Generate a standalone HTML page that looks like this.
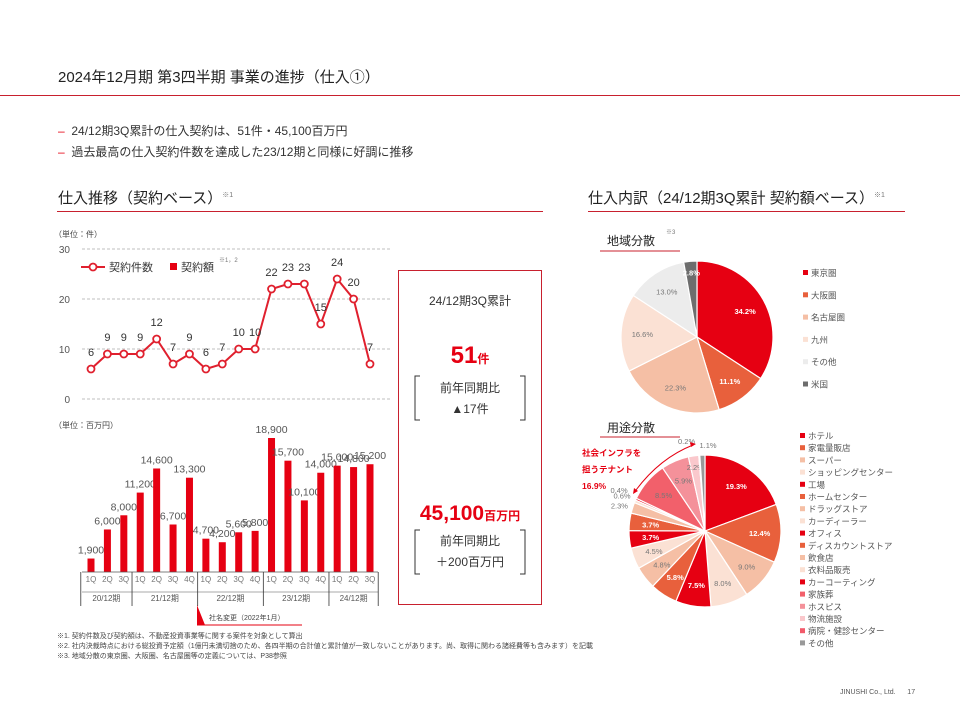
<!DOCTYPE html>
<html><head><meta charset="utf-8"><style>
body{margin:0;width:960px;height:720px;background:#fff;overflow:hidden;font-family:"Liberation Sans","Noto Sans CJK JP",sans-serif;color:#333;position:relative}
.a{position:absolute;white-space:nowrap}
</style></head><body>
<div class="a" style="left:58px;top:66px;font-size:15px;color:#222">2024年12月期 第3四半期 事業の進捗（仕入①）</div>
<div class="a" style="left:0;top:95px;width:960px;height:1px;background:#c8202e"></div>
<div class="a" style="left:58px;top:122px;font-size:12px"><span style="color:#e60012">–</span>&nbsp; 24/12期3Q累計の仕入契約は、51件・45,100百万円</div>
<div class="a" style="left:58px;top:143px;font-size:12px"><span style="color:#e60012">–</span>&nbsp; 過去最高の仕入契約件数を達成した23/12期と同様に好調に推移</div>
<div class="a" style="left:58px;top:187px;font-size:15px;color:#222">仕入推移（契約ベース）<sup style="font-size:7px;color:#777">※1</sup></div>
<div class="a" style="left:57px;top:211px;width:486px;height:1px;background:#c8202e"></div>
<div class="a" style="left:588px;top:187px;font-size:15px;color:#222">仕入内訳（24/12期3Q累計 契約額ベース）<sup style="font-size:7px;color:#777">※1</sup></div>
<div class="a" style="left:588px;top:211px;width:317px;height:1px;background:#c8202e"></div>

<div class="a" style="left:398px;top:270px;width:142px;height:333px;border:1px solid #c8202e"></div>
<div class="a" style="left:398px;top:292px;width:144px;text-align:center;font-size:12px">24/12期3Q累計</div>
<div class="a" style="left:398px;top:342px;width:144px;text-align:center;color:#e60012;font-weight:bold;font-size:24px">51<span style="font-size:12px">件</span></div>
<div class="a" style="left:398px;top:378px;width:144px;text-align:center;font-size:12px;line-height:21px">前年同期比<br>▲17件</div>
<div class="a" style="left:398px;top:502px;width:144px;text-align:center;color:#e60012;font-weight:bold;font-size:21px">45,100<span style="font-size:12px">百万円</span></div>
<div class="a" style="left:398px;top:531px;width:144px;text-align:center;font-size:12px;line-height:21px">前年同期比<br>＋200百万円</div>
<svg class="a" style="left:0;top:0" width="960" height="720">
<path d="M420 376 h-5 v44 h5 M520 376 h5 v44 h-5 M420 530 h-5 v44 h5 M520 530 h5 v44 h-5" fill="none" stroke="#333" stroke-width="1"/>
</svg>

<svg id="charts" class="a" style="left:0;top:0" width="960" height="720"></svg>

<div class="a" style="left:57px;top:632px;font-size:7px;line-height:10px;color:#444">※1. 契約件数及び契約額は、不動産投資事業等に関する案件を対象として算出<br>※2. 社内決裁時点における総投資予定額（1億円未満切捨のため、各四半期の合計値と累計値が一致しないことがあります。尚、取得に関わる諸経費等も含みます）を記載<br>※3. 地域分散の東京圏、大阪圏、名古屋圏等の定義については、P38参照</div>
<div class="a" style="left:840px;top:689px;font-size:7px;color:#555">JINUSHI Co., Ltd.&nbsp;&nbsp;&nbsp;&nbsp;&nbsp;&nbsp;17</div>

<script>
const quarters=["1Q","2Q","3Q","1Q","2Q","3Q","4Q","1Q","2Q","3Q","4Q","1Q","2Q","3Q","4Q","1Q","2Q","3Q"];
const counts=[6,9,9,9,12,7,9,6,7,10,10,22,23,23,15,24,20,7];
const amounts=[1900,6000,8000,11200,14600,6700,13300,4700,4200,5600,5800,18900,15700,10100,14000,15000,14800,15200];
const countTicks=[0,10,20,30];
const periods=["20/12期","21/12期","22/12期","23/12期","24/12期"];
const periodSizes=[3,4,4,4,3];
const regionLabels=["東京圏","大阪圏","名古屋圏","九州","その他","米国"];
const regionValues=[34.2,11.1,22.3,16.6,13.0,2.8];
const useLabels=["ホテル","家電量販店","スーパー","ショッピングセンター","工場","ホームセンター","ドラッグストア","カーディーラー","オフィス","ディスカウントストア","飲食店","衣料品販売","カーコーティング","家族葬","ホスピス","物流施設","病院・健診センター","その他"];
const useValues=[19.3,12.4,9.0,8.0,7.5,5.8,4.8,4.5,3.7,3.7,2.3,0.6,0.4,8.5,5.9,2.2,0.2,1.1];

const svg=document.getElementById('charts');const NS='http://www.w3.org/2000/svg';
function mk(t,a,p){const e=document.createElementNS(NS,t);for(const k in a)e.setAttribute(k,a[k]);(p||svg).appendChild(e);return e;}
function tx(x,y,s,a){const e=mk('text',Object.assign({x:x,y:y},a));e.textContent=s;return e;}
const n=counts.length;
const xs=i=>91+i*(370-91)/(n-1);
const yc=v=>399-v*5;
const yb=v=>572-v*134/18900;
tx(54,237,"（単位：件）",{'font-size':8,fill:'#444'});
countTicks.forEach(t=>{const g=mk('line',{x1:82,x2:390,y1:yc(t),y2:yc(t),stroke:'#aaa','stroke-dasharray':'3,2','stroke-width':0.7});
const l=tx(70,yc(t)+4,String(t),{'font-size':10,fill:'#555','text-anchor':'end'});});
const pl=mk('polyline',{points:counts.map((v,i)=>xs(i)+','+yc(v)).join(' '),fill:'none',stroke:'#e0202e','stroke-width':2});

counts.forEach((v,i)=>{const c=mk('circle',{cx:xs(i),cy:yc(v),r:3.5,fill:'#fff',stroke:'#e0202e','stroke-width':1.8});
const l=tx(xs(i),yc(v)-13,String(v),{'font-size':11,fill:'#333','text-anchor':'middle'});});
mk('line',{x1:81,x2:105,y1:267,y2:267,stroke:'#e0202e','stroke-width':2});
mk('circle',{cx:93,cy:267,r:3.5,fill:'#fff',stroke:'#e0202e','stroke-width':1.8});
tx(109,271,"契約件数",{'font-size':11,fill:'#333'});
mk('rect',{x:170,y:263,width:7,height:7,fill:'#e60012'});
tx(181,271,"契約額",{'font-size':11,fill:'#333'});
tx(219,262,"※1，2",{'font-size':6,fill:'#777'});
tx(54,428,"（単位：百万円）",{'font-size':8,fill:'#444'});
amounts.forEach((v,i)=>{const r=mk('rect',{x:xs(i)-3.5,y:yb(v),width:7,height:572-yb(v),fill:'#e60012'});
const l=tx(xs(i),yb(v)-5,v.toLocaleString('en-US'),{'font-size':10.5,fill:'#555','text-anchor':'middle'});
const q=tx(xs(i),582,quarters[i],{'font-size':8,fill:'#777','text-anchor':'middle'});});
mk('line',{x1:82,x2:378,y1:572,y2:572,stroke:'#555','stroke-width':0.8});
mk('line',{x1:82,x2:378,y1:592,y2:592,stroke:'#555','stroke-width':0.5});
let idx=0;const step=(370-91)/(n-1);
const seps=[];periodSizes.forEach((s,k)=>{const x0=xs(idx)-step/2-(k==0?2:0);const x1=xs(idx+s-1)+step/2;seps.push(x0);
const l=tx((x0+x1)/2,601,periods[k],{'font-size':8,fill:'#555','text-anchor':'middle'});idx+=s;});
seps.push(xs(n-1)+step/2);
seps.forEach(x=>mk('line',{x1:x,x2:x,y1:572,y2:606,stroke:'#333','stroke-width':0.8}));
mk('path',{d:'M197 605 L197 625 L205 625 Z',fill:'#e60012'});
mk('line',{x1:197,x2:302,y1:625,y2:625,stroke:'#e60012','stroke-width':1});
tx(209,620,"社名変更（2022年1月）",{'font-size':7,fill:'#444'});
// label placement style: {radius factor, dx, dy, outside}
const useLabelStyle={15:[0.85,0,0],16:[1.12,-12,-5],17:[1.12,6,-1],12:[1.1,-10,-6],11:[1.1,-6,-3],10:[1.1,-6,0]};
const regionLabelStyle={5:[0.85,0,0]};
function pie(cx,cy,r,vals,cols,labs,nm,sty){let a=-Math.PI/2;const tot=vals.reduce((s,v)=>s+v,0);
vals.forEach((v,i)=>{const da=v/tot*2*Math.PI;const a2=a+da;
const p=mk('path',{d:`M${cx} ${cy} L${cx+r*Math.cos(a)} ${cy+r*Math.sin(a)} A${r} ${r} 0 ${da>Math.PI?1:0} 1 ${cx+r*Math.cos(a2)} ${cy+r*Math.sin(a2)} Z`,fill:cols[i],stroke:'#fff','stroke-width':1.2});

const m=(a+a2)/2;const st=sty[i]||[0.72,0,0];const rr=r*st[0];const dark=labs[i];const outside=st[0]>1;
const l=tx(cx+rr*Math.cos(m)+st[1],cy+rr*Math.sin(m)+3+st[2],v.toFixed(1)+'%',{'font-size':7.5,fill:outside?'#777':(dark?'#fff':'#777'),'text-anchor':'middle','font-weight':dark&&!outside?'bold':'normal'});
a=a2;});}
const rc=['#e60012','#e8603c','#f5bfa5','#fbe1d4','#ececec','#6d6d6d'];
pie(697,337,76,regionValues,rc,[1,1,0,0,0,1],'region',regionLabelStyle);
const uc=['#e60012','#e8603c','#f5bfa5','#fbe1d4','#e60012','#e8603c','#f5bfa5','#fbe1d4','#e60012','#e8603c','#f5bfa5','#fbe1d4','#e60012','#f2606b','#f4919a','#fac8cc','#f25a6a','#999'];
pie(705,531,76,useValues,uc,[1,1,0,0,1,1,0,0,1,1,0,0,1,0,0,0,0,0],'use',useLabelStyle);
tx(607,245,"地域分散",{'font-size':12,fill:'#222'});tx(666,234,"※3",{'font-size':6,fill:'#777'});
mk('line',{x1:600,x2:680,y1:251,y2:251,stroke:'#c8202e','stroke-width':1});
tx(607,432,"用途分散",{'font-size':12,fill:'#222'});
mk('line',{x1:600,x2:680,y1:437,y2:437,stroke:'#c8202e','stroke-width':1});
regionLabels.forEach((s,i)=>{const y=275+i*22.3;const r=mk('rect',{x:803,y:y-5,width:5,height:5,fill:rc[i]});
const l=tx(811,y+1,s,{'font-size':8.5,fill:'#555'});});
useLabels.forEach((s,i)=>{const y=438+i*12.2;const r=mk('rect',{x:800,y:y-5,width:5,height:5,fill:uc[i]});
const l=tx(808,y+1,s,{'font-size':8.5,fill:'#555'});});
['社会インフラを','担うテナント','16.9%'].forEach((s,i)=>tx(582,456+i*16.5,s,{'font-size':8.5,fill:'#e60012','font-weight':'bold'}));
mk('path',{d:'M693 445 Q660 458 636 490',fill:'none',stroke:'#e60012','stroke-width':1});
mk('path',{d:'M696 444 l-6 -2 l1 5 Z M633 494 l1 -6 l4 3 Z',fill:'#e60012'});
</script>
</body></html>
